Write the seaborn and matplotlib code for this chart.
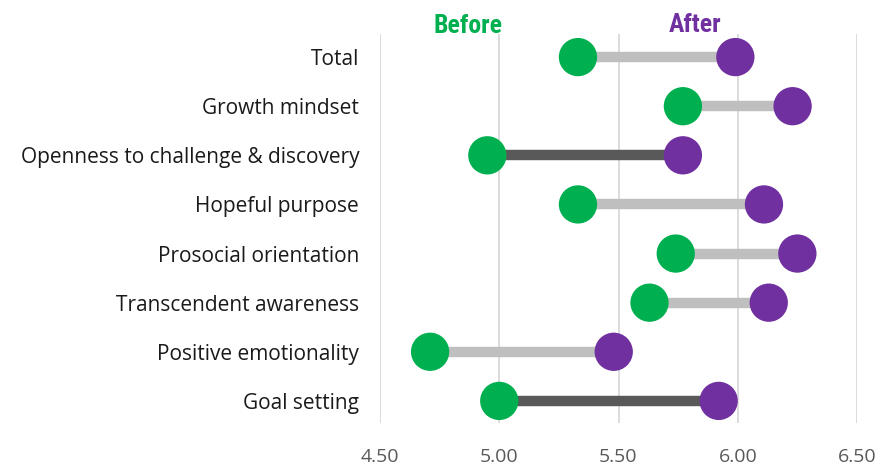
import matplotlib
matplotlib.use("Agg")
import matplotlib.pyplot as plt
import seaborn as sns
import pandas as pd

categories = ["Total", "Growth mindset", "Openness to challenge & discovery",
              "Hopeful purpose", "Prosocial orientation", "Transcendent awareness",
              "Positive emotionality", "Goal setting"]
before = [5.33, 5.77, 4.95, 5.33, 5.74, 5.63, 4.71, 5.00]
after = [5.99, 6.23, 5.77, 6.11, 6.25, 6.13, 5.48, 5.92]
highlight = [False, False, True, False, False, False, False, True]
xticks = [4.50, 5.00, 5.50, 6.00, 6.50]

GREEN = "#00B050"
PURPLE = "#7030A0"

sns.set_theme(style="white")
plt.rcParams["font.family"] = ["Open Sans", "DejaVu Sans"]

df = pd.DataFrame({"cat": categories, "before": before, "after": after, "hl": highlight})
df["y"] = range(len(df))

fig = plt.figure(figsize=(8.79, 4.67), dpi=100)
ax = fig.add_axes([380 / 879, (467 - 423) / 467, (857 - 380) / 879, (423 - 34) / 467])

for _, r in df.iterrows():
    ax.hlines(r["y"], r["before"], r["after"], color="#595959" if r["hl"] else "#BFBFBF",
              lw=7.5, zorder=2)

sns.scatterplot(data=df, x="before", y="y", color=GREEN, s=760, edgecolor="none",
                ax=ax, zorder=3, legend=False)
sns.scatterplot(data=df, x="after", y="y", color=PURPLE, s=760, edgecolor="none",
                ax=ax, zorder=3, legend=False)

ax.set_xlim(4.5, 6.5)
ax.set_ylim(7.45, -0.47)
ax.set_xticks(xticks)
ax.set_xticklabels([f"{v:.2f}" for v in xticks], color="#595959", fontsize=14)
ax.set_yticks(df["y"])
ax.set_yticklabels(categories, color="#1a1a1a", fontsize=15)
ax.tick_params(axis="both", length=0)
ax.tick_params(axis="x", pad=18)
ax.tick_params(axis="y", pad=15)
ax.xaxis.grid(True, color="#D9D9D9", lw=1.3, zorder=0)
ax.yaxis.grid(False)
ax.set_axisbelow(True)
for s in ax.spines.values():
    s.set_visible(False)
ax.set_xlabel("")
ax.set_ylabel("")

ax.text(4.87, -0.63, "Before", color=GREEN, fontsize=18.5, fontweight="bold",
        ha="center", va="center", fontstretch="condensed",
        family=["Roboto Condensed", "Liberation Sans Narrow", "DejaVu Sans"])
ax.text(5.82, -0.66, "After", color=PURPLE, fontsize=18.5, fontweight="bold",
        ha="center", va="center", fontstretch="condensed",
        family=["Roboto Condensed", "Liberation Sans Narrow", "DejaVu Sans"])

fig.savefig("out.png", dpi=100)
